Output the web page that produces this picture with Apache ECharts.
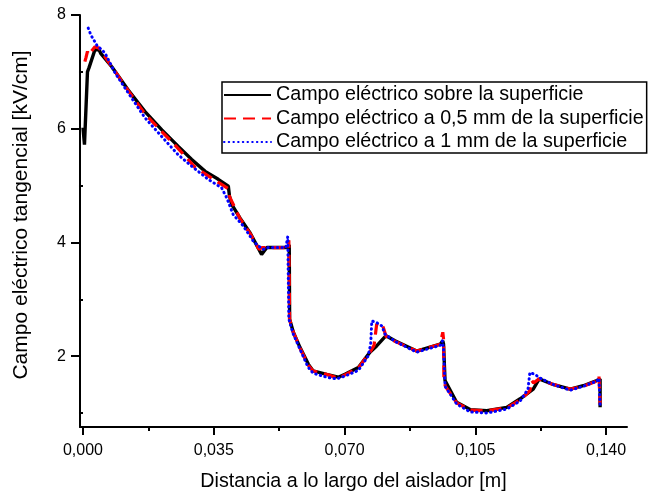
<!DOCTYPE html>
<html>
<head>
<meta charset="utf-8">
<script src="https://cdn.jsdelivr.net/npm/echarts@6/dist/echarts.min.js"></script>
<style>html,body{margin:0;padding:0;background:#fff;}#c{width:649px;height:497px;}</style>
</head>
<body>
<div id="c"></div>
<script>
// Surface
var surfX = [0.0000,0.0004,0.0012,0.0016,0.0032,0.0043,0.0048,0.0077,0.0121,0.0166,0.0211,0.0255,0.0291,0.0327,0.0362,0.0389,0.0392,0.0398,0.0420,0.0447,0.0478,0.0492,0.0550,0.0552,0.0553,0.0563,0.0581,0.0603,0.0616,0.0652,0.0683,0.0701,0.0737,0.0768,0.0786,0.0811,0.0835,0.0893,0.0956,0.0963,0.0965,0.0969,0.1000,0.1036,0.1081,0.1134,0.1170,0.1205,0.1221,0.1255,0.1304,0.1339,0.1375,0.1384,0.1384];
var surfY = [6.02,5.72,7.00,7.07,7.39,7.39,7.32,7.09,6.68,6.30,5.98,5.69,5.46,5.25,5.11,4.99,4.82,4.67,4.43,4.17,3.79,3.91,3.91,3.96,2.65,2.42,2.15,1.86,1.74,1.68,1.63,1.68,1.80,2.07,2.18,2.36,2.27,2.09,2.21,2.27,2.21,1.57,1.19,1.06,1.04,1.10,1.25,1.42,1.60,1.51,1.42,1.48,1.57,1.60,1.10];
// 0,5 mm
var halfX = [0.0005,0.0008,0.0012,0.0015,0.0032,0.0043,0.0077,0.0121,0.0166,0.0211,0.0255,0.0300,0.0371,0.0388,0.0392,0.0420,0.0447,0.0471,0.0479,0.0550,0.0551,0.0553,0.0563,0.0581,0.0603,0.0616,0.0652,0.0683,0.0701,0.0737,0.0768,0.0779,0.0786,0.0795,0.0804,0.0811,0.0835,0.0893,0.0956,0.0963,0.0965,0.0966,0.0970,0.1000,0.1036,0.1081,0.1134,0.1170,0.1196,0.1201,0.1206,0.1221,0.1255,0.1304,0.1339,0.1375,0.1381,0.1384];
var halfY = [7.18,7.25,7.36,7.30,7.44,7.42,7.09,6.67,6.26,5.95,5.65,5.32,5.02,4.95,4.81,4.42,4.16,3.88,3.91,3.91,4.04,2.65,2.42,2.14,1.84,1.74,1.68,1.61,1.67,1.79,2.07,2.19,2.56,2.59,2.50,2.35,2.26,2.09,2.21,2.42,2.30,1.56,1.47,1.18,1.05,1.04,1.09,1.23,1.39,1.57,1.53,1.60,1.51,1.42,1.47,1.56,1.65,1.16];
// 1 mm
var oneX = [0.0014,0.0021,0.0037,0.0059,0.0086,0.0121,0.0166,0.0211,0.0255,0.0291,0.0335,0.0371,0.0385,0.0402,0.0429,0.0456,0.0469,0.0483,0.0495,0.0543,0.0548,0.0551,0.0562,0.0581,0.0602,0.0616,0.0652,0.0679,0.0701,0.0737,0.0763,0.0770,0.0773,0.0786,0.0800,0.0808,0.0835,0.0893,0.0956,0.0962,0.0965,0.0969,0.1000,0.1036,0.1081,0.1134,0.1170,0.1191,0.1196,0.1210,0.1219,0.1255,0.1304,0.1339,0.1375,0.1381,0.1384];
var oneY = [7.77,7.65,7.47,7.33,6.98,6.63,6.19,5.86,5.54,5.34,5.11,4.96,4.78,4.49,4.29,4.02,3.94,3.88,3.91,3.91,4.10,2.65,2.40,2.12,1.81,1.70,1.63,1.60,1.65,1.75,2.00,2.21,2.62,2.59,2.53,2.39,2.26,2.07,2.19,2.27,2.12,1.47,1.16,1.02,1.00,1.07,1.21,1.42,1.71,1.68,1.63,1.51,1.40,1.47,1.56,1.61,1.10];

var seriesNames = ['Campo eléctrico sobre la superficie','Campo eléctrico a 0,5 mm de la superficie','Campo eléctrico a 1 mm de la superficie'];
var xMajorTicks = [0, 0.035, 0.070, 0.105, 0.140];
var xMinorTicks = [0.0175, 0.0525, 0.0875, 0.1225];
var yMajorTicks = [2, 4, 6, 8];
var yMinorTicks = [1, 3, 5, 7];
var xTitle = 'Distancia a lo largo del aislador [m]';
var yTitle = 'Campo eléctrico tangencial [kV/cm]';

function zip(xs, ys){ return xs.map(function(x,i){ return [x, ys[i]]; }); }

var FONT = 'Liberation Sans, Arial, sans-serif';
var XMIN = -0.0008, XMAX = 0.1456, YMIN = 0.754, YMAX = 8;

var chart = echarts.init(document.getElementById('c'), null, {renderer:'canvas'});
chart.setOption({
  animation: false,
  backgroundColor: '#fff',
  grid: {left: 80, top: 15, right: 22, bottom: 69, containLabel: false},
  legend: {
    orient: 'vertical', left: 222, top: 82,
    padding: [3, 3, 1, 1],
    borderColor: '#000', borderWidth: 1.5,
    itemWidth: 47, itemHeight: 14, itemGap: 3.5,
    itemStyle: {opacity: 0},
    textStyle: {fontFamily: FONT, fontSize: 19.7, color: '#000'},
    data: seriesNames
  },
  xAxis: [{
    type: 'value', min: XMIN, max: XMAX,
    name: xTitle, nameLocation: 'middle', nameGap: 45,
    nameTextStyle: {fontFamily: FONT, fontSize: 19.7, color: '#000'},
    axisLine: {show: true, onZero: false, lineStyle: {color: '#000', width: 2}},
    axisTick: {show: true, customValues: xMajorTicks, length: 8, lineStyle: {color: '#000', width: 2}},
    axisLabel: {customValues: xMajorTicks, margin: 16, fontFamily: FONT, fontSize: 16, color: '#000',
      formatter: function(v){ return v.toFixed(3).replace('.', ','); }},
    splitLine: {show: false}
  }, {
    type: 'value', min: XMIN, max: XMAX, position: 'bottom',
    axisLine: {show: false},
    axisTick: {show: true, customValues: xMinorTicks, length: 4, lineStyle: {color: '#000', width: 2}},
    axisLabel: {show: false},
    splitLine: {show: false}
  }],
  yAxis: [{
    type: 'value', min: YMIN, max: YMAX,
    name: yTitle, nameLocation: 'middle', nameGap: 48,
    nameTextStyle: {fontFamily: FONT, fontSize: 21, color: '#000', padding: [0, 0, 0, 12]},
    axisLine: {show: true, onZero: false, lineStyle: {color: '#000', width: 2}},
    axisTick: {show: true, customValues: yMajorTicks, length: 9, lineStyle: {color: '#000', width: 2}},
    axisLabel: {customValues: yMajorTicks, margin: 14, fontFamily: FONT, fontSize: 16, color: '#000',
      formatter: function(v){ return String(Math.round(v)); }},
    splitLine: {show: false}
  }, {
    type: 'value', min: YMIN, max: YMAX, position: 'left',
    axisLine: {show: false},
    axisTick: {show: true, customValues: yMinorTicks, length: 4, lineStyle: {color: '#000', width: 2}},
    axisLabel: {show: false},
    splitLine: {show: false}
  }],
  series: [{
    name: seriesNames[0], type: 'line', data: zip(surfX, surfY), symbol: 'none',
    lineStyle: {color: '#000', width: 3.4, type: 'solid'}, itemStyle: {color: '#000'}
  }, {
    name: seriesNames[1], type: 'line', data: zip(halfX, halfY), symbol: 'none',
    lineStyle: {color: '#ff0000', width: 3.2, type: [12, 7]}, itemStyle: {color: '#ff0000'}
  }, {
    name: seriesNames[2], type: 'line', data: zip(oneX, oneY), symbol: 'none',
    lineStyle: {color: '#0000ff', width: 3, type: [0.5, 4.2], cap: 'round'}, itemStyle: {color: '#0000ff'}
  }]
});
</script>
</body>
</html>
